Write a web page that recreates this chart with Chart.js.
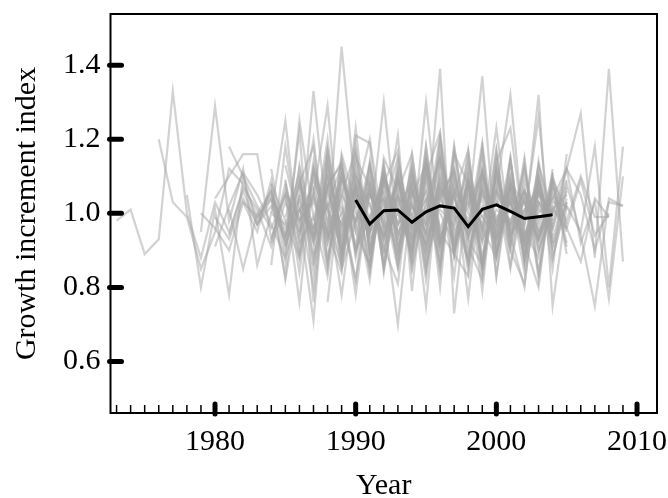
<!DOCTYPE html>
<html lang="en">
<head>
<meta charset="UTF-8">
<title>Growth increment index</title>
<script src="https://cdn.jsdelivr.net/npm/chart.js"></script>
<style>
  body { margin: 0; background: #fff; }
  canvas { display: block; }
</style>
</head>
<body>
<canvas id="chart" width="668" height="498"></canvas>
<script>
const xTicks = [1980, 1990, 2000, 2010];
const yTicks = [0.6, 0.8, 1.0, 1.2, 1.4];

// mean chronology (black line)
const meanStart = 1990;
const meanValues = [1.036, 0.971, 1.007, 1.009, 0.976, 1.004, 1.020, 1.014, 0.964, 1.011, 1.023, 1.005, 0.986, 0.991, 0.996];

// individual series (grey lines): first year of each, then the yearly values
const grayStarts = [
  1973, 1976, 1978, 1979, 1980, 1980, 1981, 1981, 1982, 1983, 1980, 1981, 1979,
  1984, 1985, 1984, 1985, 1986, 1984, 1985, 1986, 1987, 1985, 1988, 1986, 1984, 1989,
  1985, 1987, 1990, 1984, 1988, 1986, 1991, 1985, 1987, 1989, 1986, 1990, 1992, 1984,
  1985, 1986, 1988, 1984, 1990, 1987,
  1995, 1997, 1998, 2000, 1999, 2001, 2002, 1996
];
const grayValues = [
  [0.98, 1.01, 0.89, 0.93, 1.33, 1.00, 0.88, 1.03, 0.95, 1.06, 0.97, 1.02, 0.93, 1.05],
  [1.20, 1.03, 0.99, 0.85, 0.95, 1.12, 1.08, 0.99, 1.04, 0.92, 1.01, 0.96, 1.08],
  [1.05, 0.80, 1.01, 0.78, 1.10, 1.02, 0.96, 1.05, 0.89, 1.12, 0.94, 1.00, 1.07, 0.93],
  [0.95, 1.29, 0.98, 1.12, 0.86, 1.00, 0.97, 1.08, 0.93, 1.02, 0.90, 1.06, 0.99, 1.04, 0.95],
  [1.04, 1.10, 1.16, 1.16, 0.93, 1.05, 0.98, 1.03, 0.94, 1.09, 1.00, 0.95, 1.10, 0.97, 1.03],
  [0.91, 1.02, 1.11, 1.05, 0.97, 0.88, 1.01, 1.07, 0.92, 1.05, 0.98, 1.13, 0.94, 1.00, 0.96, 1.06],
  [1.18, 1.10, 0.97, 1.04, 0.83, 1.13, 0.95, 1.20, 0.90, 1.08, 0.96, 1.03, 0.88, 1.06, 0.99],
  [0.94, 1.07, 1.01, 0.91, 1.03, 0.95, 1.09, 0.98, 0.86, 1.10, 1.02, 0.94, 1.05, 0.99, 0.92, 1.07, 1.00],
  [1.03, 0.95, 1.09, 0.87, 1.25, 0.99, 0.83, 1.11, 0.97, 1.06, 0.93, 1.02, 1.08, 0.94, 1.01, 0.97],
  [0.98, 1.06, 0.92, 1.22, 0.76, 1.14, 0.91, 1.23, 0.88, 1.05, 0.97, 1.12, 0.85, 1.04, 0.96, 1.09, 0.93, 1.01, 0.97],
  [0.99, 0.93, 1.04, 0.97, 1.07, 0.82, 1.05, 0.93, 1.10, 0.96, 1.02],
  [1.01, 0.85, 1.00, 1.06, 0.94, 1.04, 0.92, 1.03, 0.97, 1.11, 0.95, 1.06],
  [1.00, 0.96, 0.90, 1.03, 0.99, 1.05, 0.96, 1.01, 0.94, 1.07],
  [1.00, 1.25, 0.91, 1.33, 0.97, 1.10, 0.95, 1.08, 0.90, 1.04, 0.93, 1.12, 0.96, 1.05, 0.88, 1.07, 0.99, 1.03, 0.92, 1.06, 0.97],
  [1.05, 0.76, 1.12, 0.94, 1.45, 1.05, 0.94, 1.10, 0.95, 1.02, 0.91, 1.06, 1.00, 0.87, 1.09, 0.97, 1.04, 0.93, 1.01, 0.98],
  [0.93, 1.06, 0.99, 0.71, 1.17, 0.89, 1.21, 1.19, 0.85, 1.09, 0.96, 1.04, 0.91, 1.07, 0.98, 1.11, 0.94, 1.02, 0.89, 1.05, 1.00],
  [1.13, 0.97, 1.20, 0.88, 1.04, 0.78, 1.08, 0.99, 0.70, 1.06, 0.94, 1.10, 0.98, 1.03, 0.92, 1.07, 0.96, 1.12, 0.90, 1.02, 0.95],
  [0.95, 1.05, 1.29, 0.89, 1.03, 0.96, 1.30, 0.93, 1.07, 0.75, 1.15, 1.01, 0.95, 1.06, 0.91, 1.04, 0.99, 1.08, 0.94],
  [1.04, 0.94, 1.08, 0.96, 1.02, 1.13, 0.90, 1.05, 0.98, 1.21, 0.79, 1.14, 0.93, 1.05, 1.17, 0.88, 1.06, 0.97, 1.04, 0.93, 1.09, 1.01],
  [0.91, 1.03, 0.95, 1.17, 0.99, 0.82, 1.05, 0.97, 1.09, 0.92, 1.30, 0.94, 1.08, 0.77, 1.11, 0.96, 1.03, 0.90, 1.07, 0.98],
  [1.02, 0.80, 1.12, 0.94, 1.06, 0.98, 1.04, 0.89, 1.10, 0.96, 1.39, 0.73, 1.08, 0.95, 1.23, 0.94, 1.01, 1.06, 0.92],
  [0.98, 1.07, 0.93, 1.04, 1.20, 0.95, 1.03, 0.88, 1.18, 0.92, 1.06, 1.00, 1.37, 0.89, 1.05, 0.84, 1.03, 0.97],
  [1.08, 0.92, 0.99, 1.10, 0.87, 1.04, 0.96, 1.12, 0.91, 1.02, 0.95, 1.09, 0.97, 1.15, 0.86, 1.06, 1.32, 0.93, 1.00, 1.04, 0.96],
  [0.76, 1.10, 0.98, 1.06, 0.93, 1.09, 0.99, 1.14, 0.90, 1.18, 0.94, 1.04, 0.88, 1.08, 0.97, 1.32, 0.75, 1.02],
  [1.09, 0.94, 1.02, 0.78, 1.06, 0.95, 1.11, 0.97, 1.03, 0.91, 1.08, 0.99, 1.12, 0.85, 1.10, 0.95, 1.07, 0.90, 1.01, 1.05],
  [0.92, 1.08, 0.84, 1.12, 1.01, 0.86, 1.15, 0.90, 1.08, 1.17, 0.85, 1.10, 0.92, 1.06, 0.87, 1.18, 0.83, 1.09, 0.95, 0.88, 1.12],
  [1.02, 0.82, 1.13, 0.96, 1.05, 0.91, 1.10, 1.22, 0.93, 1.08, 0.79, 1.14, 1.23, 0.94, 1.06, 0.91, 1.03],
  [0.99, 1.10, 0.88, 1.05, 0.97, 1.08, 0.93, 1.01, 1.15, 0.95, 1.04, 0.90, 1.09, 0.97, 1.02, 0.93, 1.07, 0.99, 1.26, 0.88, 1.04],
  [1.11, 0.87, 1.15, 0.95, 0.86, 1.13, 0.90, 1.09, 0.82, 1.12, 0.89, 1.17, 0.85, 1.11, 0.92, 1.15, 0.84, 1.07, 0.91],
  [0.90, 1.14, 0.84, 1.10, 0.88, 1.18, 0.86, 1.12, 0.93, 1.17, 0.83, 1.14, 0.88, 1.09, 0.85, 1.16],
  [0.86, 1.18, 0.94, 1.06, 0.85, 1.16, 1.02, 0.82, 1.13, 0.90, 1.07, 0.84, 1.20, 0.89, 1.10, 0.83, 1.15, 0.92, 1.09, 0.97],
  [1.10, 0.89, 1.08, 0.85, 1.15, 1.06, 0.87, 1.12, 0.80, 1.18, 0.93, 0.86, 1.12, 0.91, 1.14, 0.82, 1.08, 0.92],
  [0.98, 1.04, 0.95, 1.07, 0.90, 0.99, 1.09, 0.94, 1.02, 0.97, 1.21, 0.91, 1.05, 0.99, 0.93, 1.08, 1.03, 0.95, 1.00],
  [1.03, 0.90, 1.12, 0.97, 1.06, 0.92, 1.04, 0.96, 1.12, 0.98, 1.03, 0.93, 1.08, 0.96],
  [1.09, 0.88, 1.14, 0.95, 0.84, 1.12, 0.91, 1.07, 0.86, 1.16, 0.90, 1.08, 0.83, 1.13, 0.96, 0.88, 1.15, 0.86, 1.10, 0.93, 1.07],
  [0.86, 1.08, 1.13, 0.88, 1.09, 0.91, 0.81, 1.12, 0.93, 1.19, 0.89, 0.83, 1.14, 0.88, 1.10, 0.92, 0.80, 1.11],
  [0.88, 1.15, 1.07, 0.86, 1.11, 0.90, 1.08, 0.84, 1.16, 0.91, 0.82, 1.12, 0.94, 0.80, 1.14, 0.95],
  [1.10, 0.84, 1.07, 0.89, 1.18, 0.90, 1.09, 0.86, 1.05, 1.13, 0.85, 1.16, 1.08, 0.87, 1.17, 0.90, 0.81, 1.10, 0.93],
  [1.10, 0.95, 1.00, 1.08, 0.93, 0.99, 1.16, 0.90, 1.04, 0.97, 1.09, 0.94, 1.01, 0.93, 1.07],
  [0.96, 1.04, 1.00, 0.89, 1.07, 0.95, 1.02, 1.11, 0.93, 1.05, 0.97, 1.10, 0.91, 1.06],
  [1.12, 0.90, 1.08, 1.18, 0.86, 1.10, 0.91, 1.13, 0.85, 1.06, 1.16, 0.88, 1.05, 1.11, 0.84, 1.09, 0.90, 1.14, 0.87, 1.06],
  [0.94, 1.12, 0.87, 1.07, 1.14, 0.89, 1.06, 0.93, 1.11, 0.85, 1.03, 1.15, 0.90, 1.08, 0.86, 1.12, 0.95, 1.04, 0.84, 1.10, 0.97],
  [1.07, 0.92, 1.16, 0.85, 0.98, 1.10, 0.88, 1.14, 0.94, 1.02, 0.87, 1.11, 0.96, 1.19, 0.89, 1.06, 0.92, 1.13, 0.88, 1.03],
  [0.93, 1.05, 1.17, 0.90, 1.03, 0.85, 1.10, 0.97, 1.14, 0.88, 1.06, 0.93, 1.17, 0.86, 1.05, 0.96, 1.10, 0.89],
  [1.08, 0.98, 0.88, 1.05, 0.92, 1.12, 0.97, 0.86, 1.09, 1.00, 0.90, 1.14, 0.95, 0.89, 1.10, 0.96, 1.06, 0.85, 1.12, 0.94, 1.02],
  [1.05, 0.88, 1.10, 0.93, 1.13, 0.86, 1.04, 1.12, 0.89, 1.07, 0.94, 1.15, 0.87, 1.06, 0.98, 1.09],
  [0.89, 1.13, 0.95, 1.07, 0.84, 1.10, 1.01, 0.90, 1.16, 0.93, 1.05, 0.86, 1.11, 0.96, 1.08, 0.88, 1.13, 1.00],
  [0.97, 1.05, 0.93, 1.08, 0.99, 1.04, 0.90, 1.06, 0.98, 1.03, 1.02, 0.95, 1.18, 0.80, 1.18],
  [1.02, 0.94, 1.06, 0.97, 1.10, 0.92, 1.03, 0.96, 1.12, 1.27, 0.88, 1.39, 0.87],
  [0.93, 1.05, 0.98, 1.07, 0.91, 1.02, 0.96, 1.08, 0.94, 0.75, 1.04, 1.02],
  [1.06, 0.97, 1.03, 0.92, 1.05, 0.98, 1.10, 0.99, 0.99],
  [1.01, 0.95, 1.07, 0.94, 1.03, 1.00, 1.12, 0.92, 1.03, 0.77, 1.10],
  [0.98, 1.06, 0.95, 1.04, 1.12, 1.05, 0.90, 1.03, 1.02],
  [1.03, 0.93, 1.08, 0.96, 0.87, 1.04, 0.99],
  [1.00, 0.92, 1.08, 0.95, 1.03, 0.98, 1.06, 0.93, 1.01, 0.96, 1.09, 0.94, 1.00]
];

const serif = 'Liberation Serif, "Times New Roman", serif';

function toPoints(start, values) {
  return values.map((v, i) => ({ x: start + i, y: v }));
}

const datasets = [{
  data: toPoints(meanStart, meanValues),
  borderColor: '#000',
  borderWidth: 3,
  order: 0
}];
grayValues.forEach((vals, i) => {
  datasets.push({
    data: toPoints(grayStarts[i], vals),
    borderColor: 'rgba(165,165,165,0.5)',
    borderWidth: 2.2,
    order: 1
  });
});

// box and the thick R-style tick marks
const frame = {
  id: 'frame',
  afterDraw(chart) {
    const { ctx, chartArea: a, scales: { x, y } } = chart;
    const seg = (x1, y1, x2, y2) => { ctx.beginPath(); ctx.moveTo(x1, y1); ctx.lineTo(x2, y2); ctx.stroke(); };
    ctx.save();
    ctx.strokeStyle = '#000';
    ctx.lineWidth = 2;
    ctx.strokeRect(a.left, a.top, a.right - a.left, a.bottom - a.top);
    ctx.lineWidth = 1.5;
    for (let yr = Math.ceil(x.min); yr <= 2010; yr++) {
      if (yr % 10 === 0) continue;
      const px = x.getPixelForValue(yr);
      seg(px, a.bottom, px, a.bottom - 8);
    }
    ctx.lineWidth = 5;
    ctx.lineCap = 'round';
    xTicks.forEach(v => {
      const px = x.getPixelForValue(v);
      seg(px, a.bottom + 1, px, a.bottom - 9);
    });
    yTicks.forEach(v => {
      const py = y.getPixelForValue(v);
      seg(a.left - 1, py, a.left + 11, py);
    });
    ctx.restore();
  }
};

new Chart(document.getElementById('chart'), {
  type: 'line',
  data: { datasets },
  options: {
    responsive: false,
    animation: false,
    layout: { padding: { top: 14, right: 11, left: 0, bottom: 0 } },
    elements: { point: { radius: 0 }, line: { tension: 0 } },
    plugins: { legend: { display: false }, tooltip: { enabled: false } },
    scales: {
      x: {
        type: 'linear',
        min: 1972.57,
        max: 2011.42,
        afterBuildTicks: s => { s.ticks = xTicks.map(v => ({ value: v })); },
        afterFit: s => { s.height = 85; s.paddingLeft = 0; s.paddingRight = 0; },
        grid: { display: false, drawTicks: false },
        border: { display: false },
        ticks: { color: '#000', font: { family: serif, size: 30 }, padding: 11, maxRotation: 0, autoSkip: false, callback: v => String(v) },
        title: { display: true, text: 'Year', color: '#000', font: { family: serif, size: 30 }, padding: { top: 0, bottom: -6 } }
      },
      y: {
        min: 0.461,
        max: 1.538,
        afterBuildTicks: s => { s.ticks = yTicks.map(v => ({ value: v })); },
        afterFit: s => { s.width = 110.5; s.paddingTop = 0; s.paddingBottom = 0; },
        grid: { display: false, drawTicks: false },
        border: { display: false },
        ticks: { color: '#000', font: { family: serif, size: 30 }, padding: 10, callback: v => v.toFixed(1) },
        title: { display: true, text: 'Growth increment index', color: '#000', font: { family: serif, size: 30 }, padding: { top: 9, bottom: 0 } }
      }
    }
  },
  plugins: [frame]
});
</script>
</body>
</html>
